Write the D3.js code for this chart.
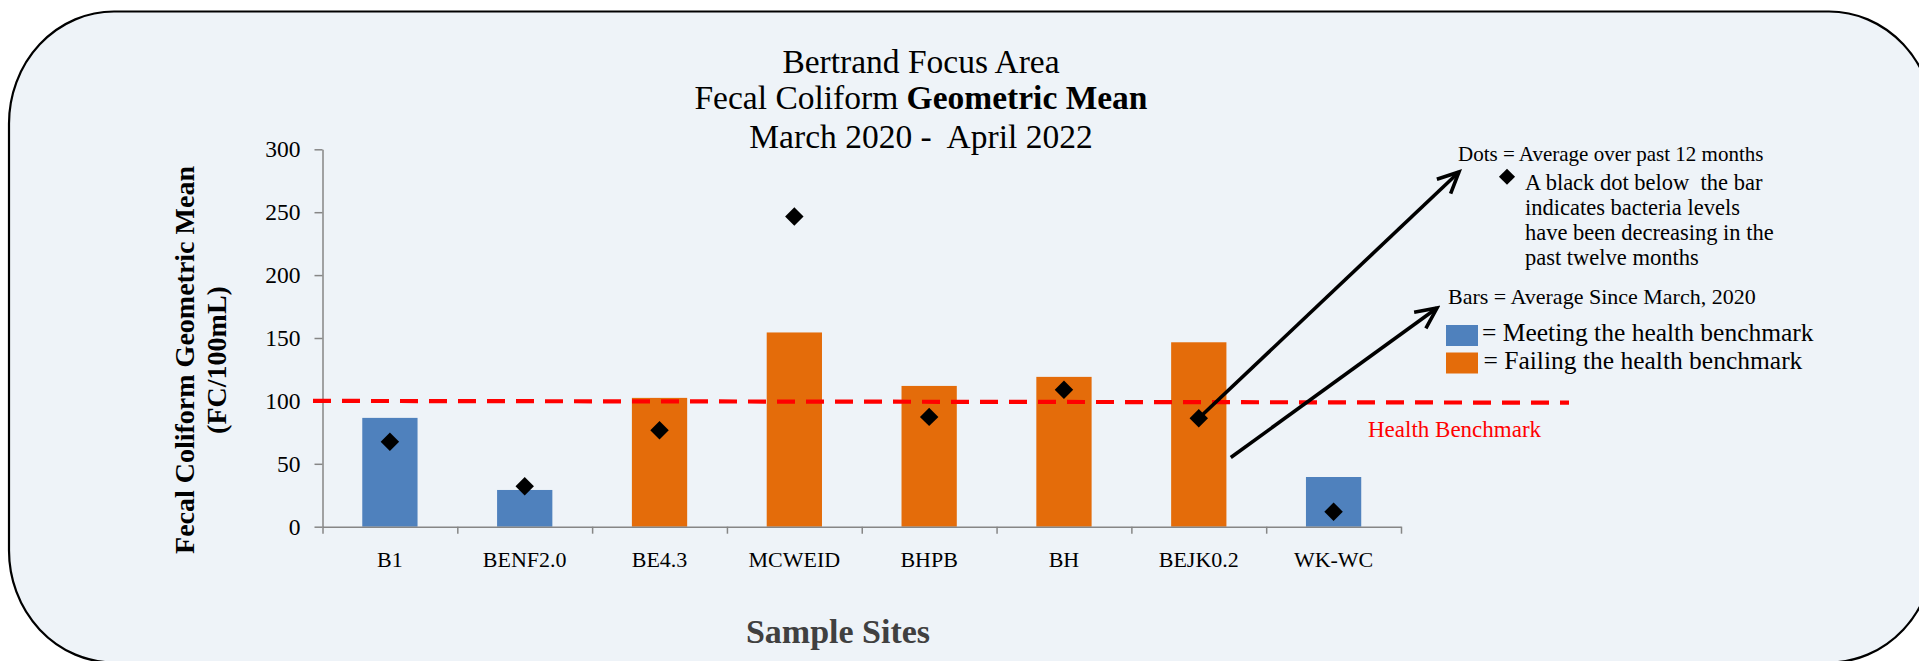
<!DOCTYPE html>
<html lang="en">
<head>
<meta charset="utf-8">
<title>Bertrand Focus Area - Fecal Coliform Geometric Mean</title>
<script src="https://cdn.jsdelivr.net/npm/d3@7"></script>
<style>
  body { margin: 0; background: #fff; overflow: hidden; }
  text { font-family: "Liberation Serif", "Times New Roman", serif; fill: #000; }
  .pre { white-space: pre; }
</style>
</head>
<body>
<script>
// values
const sites = ["B1", "BENF2.0", "BE4.3", "MCWEID", "BHPB", "BH", "BEJK0.2", "WK-WC"];
const barValues = [86.5, 29.2, 102.4, 154.4, 111.9, 119.1, 146.6, 39.5];   // average since March 2020
const dotValues = [67.6, 32.1, 76.7, 246.6, 87.3, 108.8, 86.2, 11.9];      // average over past 12 months
const yTicks = [0, 50, 100, 150, 200, 250, 300];
const benchmark = [100, 98.6];   // the hand-drawn line is a touch lower at its right end

const blue = "#4f81bd", orange = "#e46c0a";

const svg = d3.select("body").append("svg")
    .attr("width", 1919)
    .attr("height", 661);

// rounded panel (runs off the right and bottom of the page)
svg.append("rect")
    .attr("x", 9).attr("y", 11.5)
    .attr("width", 1925).attr("height", 651)
    .attr("rx", 105).attr("ry", 112)
    .attr("fill", "#eef3f8")
    .attr("stroke", "#000")
    .attr("stroke-width", 2.2);

const x = d3.scaleBand().domain(sites).range([322.5, 1401]);
const xi = d3.scaleLinear().domain([0, sites.length]).range(x.range());
const y = d3.scaleLinear().domain([0, 300]).range([526.7, 149.3]);
const barW = x.bandwidth() * 0.41;
const cx = d => x(d) + x.bandwidth() / 2;

// bars
svg.selectAll(".bar")
    .data(sites)
    .join("rect")
    .attr("class", "bar")
    .attr("x", d => cx(d) - barW / 2)
    .attr("y", (d, i) => y(barValues[i]))
    .attr("width", barW)
    .attr("height", (d, i) => y(0) - y(barValues[i]))
    .attr("fill", (d, i) => barValues[i] > benchmark[0] ? orange : blue);

// axes
const yAxis = svg.append("g")
    .attr("transform", `translate(${xi(0)},0)`)
    .call(d3.axisLeft(y).tickValues(yTicks).tickSize(8).tickPadding(14).tickSizeOuter(0));

const xAxis = svg.append("g")
    .attr("transform", `translate(0,${y(0)})`)
    .call(d3.axisBottom(xi).ticks(sites.length).tickSize(7).tickFormat("").tickSizeOuter(0));

svg.selectAll(".domain, .tick line")
    .attr("stroke", "#868686")
    .attr("stroke-width", 1.5);
yAxis.selectAll(".tick text").attr("font-size", 23.5);

svg.selectAll(".xlab")
    .data(sites)
    .join("text")
    .attr("class", "xlab")
    .attr("x", cx)
    .attr("y", 567)
    .attr("text-anchor", "middle")
    .attr("font-size", 22)
    .text(d => d);

// health benchmark line
svg.append("line")
    .attr("x1", xi(0) - 9.5).attr("x2", 1569)
    .attr("y1", y(benchmark[0])).attr("y2", y(benchmark[1]))
    .attr("stroke", "#ff0000")
    .attr("stroke-width", 4.2)
    .attr("stroke-dasharray", "18 11");

svg.append("text")
    .attr("x", 1368).attr("y", 437)
    .attr("font-size", 23)
    .style("fill", "#ff0000")
    .text("Health Benchmark");

// 12-month dots
const diamond = d3.symbol(d3.symbolSquare, 171);
svg.selectAll(".dot")
    .data(sites)
    .join("path")
    .attr("class", "dot")
    .attr("d", diamond)
    .attr("fill", "#000")
    .attr("transform", (d, i) => `translate(${cx(d)},${y(dotValues[i])}) rotate(45)`);

// arrows
svg.append("defs").append("marker")
    .attr("id", "head")
    .attr("markerUnits", "userSpaceOnUse")
    .attr("viewBox", "-26 -14 30 28")
    .attr("markerWidth", 30).attr("markerHeight", 28)
    .attr("refX", 0).attr("refY", 0)
    .attr("orient", "auto")
    .append("path")
    .attr("d", "M-21,-10L0,0L-21,10")
    .attr("fill", "none")
    .attr("stroke", "#000")
    .attr("stroke-width", 3.6);

const arrows = [
    [cx("BEJK0.2"), y(dotValues[6]), 1459, 172],
    [cx("BEJK0.2") + 32, y(55), 1437, 308]
];
svg.selectAll(".arrow")
    .data(arrows)
    .join("line")
    .attr("class", "arrow")
    .attr("x1", d => d[0]).attr("y1", d => d[1])
    .attr("x2", d => d[2]).attr("y2", d => d[3])
    .attr("stroke", "#000")
    .attr("stroke-width", 3.6)
    .attr("marker-end", "url(#head)");

// title
const title = svg.append("g").attr("font-size", 33.5).attr("text-anchor", "middle");
title.append("text").attr("x", 921).attr("y", 72.7).text("Bertrand Focus Area");
const t2 = title.append("text").attr("x", 921).attr("y", 109.3).attr("class", "pre");
t2.append("tspan").text("Fecal Coliform ");
t2.append("tspan").attr("font-weight", "bold").text("Geometric Mean");
title.append("text").attr("x", 921).attr("y", 147.7).attr("class", "pre").text("March 2020 -  April 2022");

// axis titles
svg.append("text")
    .attr("transform", "translate(193.5,360) rotate(-90)")
    .attr("text-anchor", "middle")
    .attr("font-size", 28)
    .attr("font-weight", "bold")
    .text("Fecal Coliform Geometric Mean");
svg.append("text")
    .attr("transform", "translate(226,360) rotate(-90)")
    .attr("text-anchor", "middle")
    .attr("font-size", 28)
    .attr("font-weight", "bold")
    .text("(FC/100mL)");

svg.append("text")
    .attr("x", 838).attr("y", 643)
    .attr("text-anchor", "middle")
    .attr("font-size", 34)
    .attr("font-weight", "bold")
    .style("fill", "#404040")
    .text("Sample Sites");

// legend notes
svg.append("text").attr("x", 1458).attr("y", 160.7).attr("font-size", 21)
    .text("Dots = Average over past 12 months");
svg.append("path")
    .attr("d", d3.symbol(d3.symbolSquare, 130))
    .attr("transform", "translate(1507,176.7) rotate(45)")
    .attr("fill", "#000");
const noteLines = ["A black dot below  the bar", "indicates bacteria levels", "have been decreasing in the", "past twelve months"];
svg.selectAll(".note")
    .data(noteLines)
    .join("text")
    .attr("class", "note pre")
    .attr("x", 1525)
    .attr("y", (d, i) => 190 + i * 25)
    .attr("font-size", 22.5)
    .text(d => d);

svg.append("text").attr("x", 1448).attr("y", 304).attr("font-size", 22)
    .text("Bars = Average Since March, 2020");

const keys = [
    { color: blue, label: "= Meeting the health benchmark" },
    { color: orange, label: "= Failing the health benchmark" }
];
const key = svg.selectAll(".key")
    .data(keys)
    .join("g")
    .attr("class", "key")
    .attr("transform", (d, i) => `translate(1446,${325 + i * 27.5})`);
key.append("rect").attr("width", 32).attr("height", 21).attr("fill", d => d.color);
key.append("text").attr("x", (d, i) => 36 + i * 1.5).attr("y", 16).attr("font-size", 25.5).text(d => d.label);
</script>
</body>
</html>
